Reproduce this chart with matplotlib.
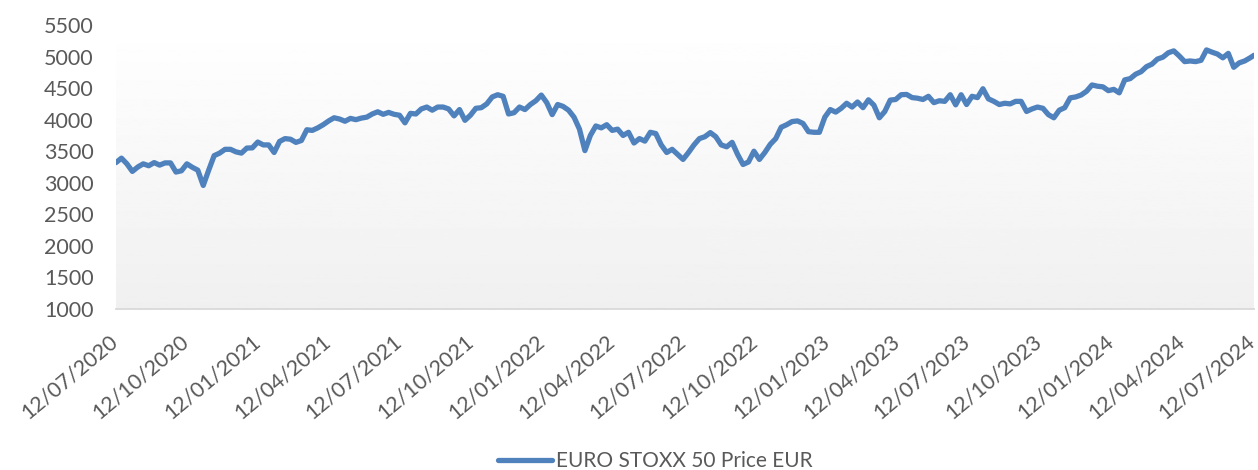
import matplotlib.pyplot as plt
import matplotlib.dates as mdates
import matplotlib.transforms as mtransforms
import numpy as np
import pandas as pd

# weekly closes (approx.), first week = 2020-07-12
price_2020 = [3320, 3390, 3300, 3180, 3250, 3300, 3270, 3320, 3280, 3315, 3315, 3170,
              3190, 3300, 3245, 3200, 2958, 3200, 3430, 3470, 3530, 3530, 3490, 3470, 3550]
price_2021 = [3553, 3645, 3600, 3600, 3480, 3655, 3700, 3690, 3640, 3670, 3840, 3830, 3870,
              3920, 3980, 4030, 4010, 3975, 4020, 4000, 4025, 4040, 4090, 4125, 4085, 4115,
              4085, 4070, 3950, 4100, 4090, 4170, 4200, 4150, 4200, 4200, 4170, 4060, 4160,
              3990, 4070, 4180, 4190, 4250, 4360, 4395, 4370, 4090, 4110, 4200, 4160, 4240]
price_2022 = [4300, 4390, 4270, 4080, 4240, 4210, 4150, 4040, 3850, 3510, 3750, 3900, 3870,
              3920, 3830, 3850, 3750, 3800, 3630, 3700, 3660, 3800, 3780, 3600, 3480, 3530,
              3450, 3370, 3480, 3600, 3700, 3730, 3795, 3730, 3600, 3570, 3640, 3450, 3290,
              3330, 3500, 3370, 3480, 3610, 3700, 3880, 3920, 3970, 3980, 3940, 3810, 3800]
price_2023 = [3800, 4040, 4160, 4120, 4180, 4260, 4200, 4280, 4190, 4315, 4230, 4030, 4130,
              4310, 4320, 4395, 4400, 4350, 4340, 4320, 4370, 4270, 4300, 4290, 4395, 4235,
              4395, 4240, 4370, 4350, 4490, 4330, 4290, 4240, 4260, 4250, 4290, 4290, 4130,
              4170, 4200, 4180, 4080, 4030, 4150, 4190, 4345, 4360, 4390, 4450, 4550, 4530, 4520]
price_2024 = [4460, 4480, 4425, 4630, 4650, 4720, 4760, 4840, 4880, 4960, 4990, 5060, 5090,
              5010, 4920, 4930, 4920, 4940, 5105, 5070, 5040, 4980, 5050, 4830, 4900, 4930,
              4980]
last_date = "2024-07-12"
last_price = 5020

series_name = "EURO STOXX 50 Price EUR"

prices = price_2020 + price_2021 + price_2022 + price_2023 + price_2024 + [last_price]
dates = list(pd.date_range("2020-07-12", periods=len(prices) - 1, freq="7D")) + [pd.Timestamp(last_date)]

tick_dates = pd.date_range("2020-07-12", "2024-07-12", freq=pd.DateOffset(months=3))

plt.rcParams['font.family'] = ['Lato', 'DejaVu Sans']
grey = '#595959'

fig = plt.figure(figsize=(12.58, 4.70), dpi=100)
ax = fig.add_axes([116 / 1258, 1 - 309 / 470, (1254 - 116) / 1258, (309 - 25) / 470])

# plot-area gradient, white at top to light grey at the bottom
grad = np.linspace(1.0, 0.94, 256).reshape(-1, 1)
ax.imshow(grad, cmap='gray', vmin=0, vmax=1, aspect='auto', extent=[0, 1, 0, 1],
          transform=ax.transAxes, zorder=0)

ax.plot(dates, prices, color='#4f81bd', linewidth=3.8, label=series_name,
        solid_joinstyle='round', solid_capstyle='round', zorder=2)

ax.set_xlim(pd.Timestamp("2020-07-12"), pd.Timestamp("2024-07-12"))
ax.set_ylim(1000, 5500)
ax.set_yticks(range(1000, 5501, 500))
ax.set_xticks(tick_dates)
ax.xaxis.set_major_formatter(mdates.DateFormatter('%d/%m/%Y'))

ax.tick_params(axis='y', length=0, pad=16, labelsize=15.5, labelcolor=grey)
ax.tick_params(axis='x', length=0, pad=16, labelsize=15.5, labelcolor=grey)
shift = mtransforms.ScaledTranslation(5 / 100, 0, fig.dpi_scale_trans)
for lbl in ax.get_xticklabels():
    lbl.set_rotation(40)
    lbl.set_ha('right')
    lbl.set_va('top')
    lbl.set_transform(lbl.get_transform() + shift)

for s in ['top', 'right', 'left']:
    ax.spines[s].set_visible(False)
ax.spines['bottom'].set_color('#d9d9d9')
ax.spines['bottom'].set_linewidth(1.3)
ax.spines['bottom'].set_zorder(3)

fig.legend(loc='center', bbox_to_anchor=(655 / 1258, 1 - 461 / 470), frameon=False,
           fontsize=15, labelcolor=grey, handlelength=2.6, handletextpad=0.2)

fig.savefig('out.png', dpi=100)
